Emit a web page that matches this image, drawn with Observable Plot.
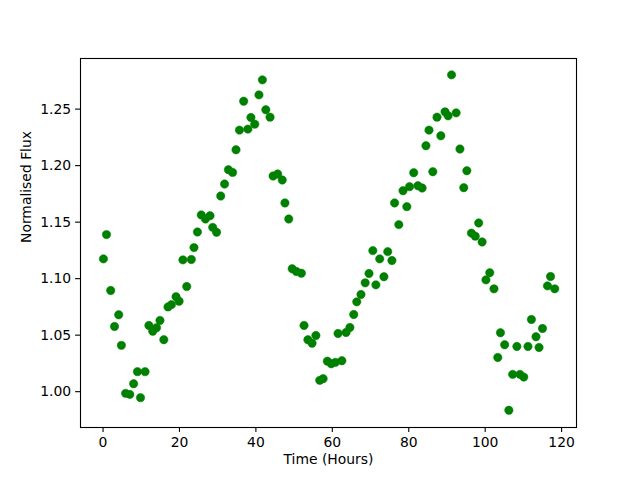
<!DOCTYPE html>
<html><head><meta charset="utf-8">
<script src="https://cdn.jsdelivr.net/npm/d3@7"></script>
<script src="https://cdn.jsdelivr.net/npm/@observablehq/plot@0.6"></script>
<style>body{margin:0;background:#fff}</style>
</head><body><div id="chart"></div>
<script>
const time = [0.1,0.9,2.0,3.0,4.1,4.8,5.9,7.0,8.0,9.0,9.8,11.0,12.0,13.0,14.0,14.9,15.9,17.0,17.9,19.1,19.9,20.9,21.9,23.1,23.8,24.7,25.7,26.8,28.0,28.7,29.7,30.8,31.8,32.8,33.9,34.8,35.7,36.8,37.9,38.7,39.7,40.8,41.7,42.6,43.7,44.5,45.7,46.9,47.6,48.6,49.5,50.6,51.9,52.6,53.6,54.7,55.7,56.7,57.6,58.7,59.7,60.8,61.5,62.5,63.6,64.6,65.6,66.4,67.5,68.6,69.6,70.6,71.4,72.4,73.5,74.5,75.6,76.3,77.4,78.5,79.5,80.2,81.3,82.4,83.5,84.5,85.3,86.3,87.4,88.4,89.5,90.3,91.2,92.4,93.4,94.4,95.2,96.4,97.4,98.3,99.2,100.2,101.2,102.3,103.3,104.0,105.1,106.2,107.2,108.3,109.1,110.1,111.2,112.1,113.3,114.1,115.0,116.3,117.1,118.2];
const flux = [1.1175,1.139,1.0895,1.0577,1.068,1.041,0.9985,0.9976,1.007,1.0177,0.9947,1.0177,1.0586,1.0535,1.0565,1.063,1.046,1.075,1.077,1.084,1.080,1.1166,1.093,1.117,1.1275,1.1413,1.1564,1.1528,1.1557,1.1454,1.141,1.1731,1.1837,1.1964,1.194,1.214,1.2314,1.257,1.2323,1.2426,1.2367,1.2626,1.2759,1.2494,1.2429,1.1908,1.1926,1.1873,1.167,1.1528,1.1087,1.1063,1.1048,1.0586,1.0459,1.0429,1.0497,1.010,1.0115,1.027,1.0247,1.0259,1.0515,1.0274,1.0524,1.0568,1.0683,1.0795,1.086,1.0963,1.1045,1.1248,1.0945,1.1175,1.1017,1.1239,1.116,1.167,1.1478,1.1778,1.1637,1.1814,1.1937,1.1822,1.1802,1.2176,1.2314,1.1946,1.2429,1.2264,1.2476,1.2441,1.2803,1.2467,1.2147,1.1805,1.1955,1.1403,1.1376,1.1493,1.1325,1.0989,1.1052,1.091,1.0303,1.0521,1.0415,0.9835,1.0153,1.040,1.0153,1.0129,1.040,1.0639,1.0486,1.0391,1.0559,1.0936,1.1019,1.091];
const xTicks = [0,20,40,60,80,100,120];
const yTicks = [1.00,1.05,1.10,1.15,1.20,1.25];
const xLabel = "Time (Hours)";
const yLabel = "Normalised Flux";

const data = time.map((t, i) => ({t, f: flux[i]}));
const chart = Plot.plot({
  width: 640, height: 480,
  marginLeft: 80, marginRight: 64, marginTop: 58, marginBottom: 53,
  style: {fontFamily: "DejaVu Sans", fontSize: "13.9px", background: "white", color: "black"},
  x: {domain: [-5.9, 123.9]},
  y: {domain: [0.9683, 1.2948]},
  marks: [
    Plot.frame({stroke: "black", strokeWidth: 1.1}),
    Plot.axisX(xTicks, {tickSize: 4.9, tickPadding: 4.5, label: null, strokeWidth: 1.1}),
    Plot.axisY(yTicks, {tickSize: 4.9, tickPadding: 4.5, label: null, strokeWidth: 1.1, tickFormat: d3.format(".2f")}),
    Plot.dot(data, {x: "t", y: "f", r: 4.2, fill: "#008000", stroke: "#008000", strokeWidth: 0.5}),
    Plot.text([xLabel], {frameAnchor: "bottom", dy: 36, text: d => d, fontSize: 13.9}),
    Plot.text([yLabel], {frameAnchor: "left", dx: -54, rotate: -90, text: d => d, fontSize: 13.9})
  ]
});
document.getElementById("chart").appendChild(chart);
</script>
</body></html>
